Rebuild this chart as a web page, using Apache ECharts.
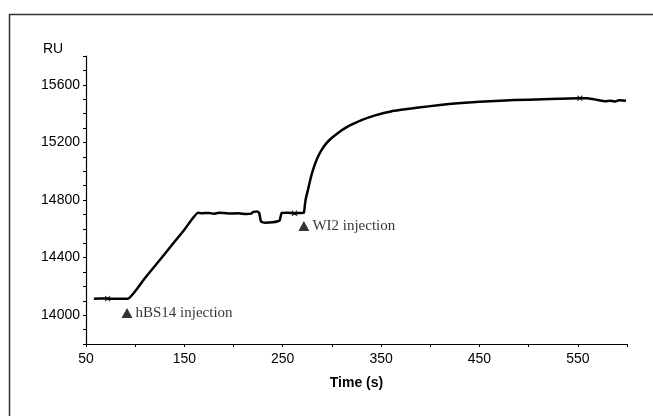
<!DOCTYPE html>
<html>
<head>
<meta charset="utf-8">
<script src="https://cdn.jsdelivr.net/npm/echarts@6/dist/echarts.min.js"></script>
<style>html,body{margin:0;padding:0;background:#fff;}#c{width:653px;height:416px;}</style>
</head>
<body>
<div id="c"></div>
<script>
// Sensorgram values
var timeS = [58, 70, 80, 92.7, 110, 130, 150, 164, 168, 175, 180, 185, 195, 205, 213, 218, 220, 224, 226, 228, 232, 240, 245, 247, 249, 255, 262, 268, 271.5,
             272.5, 273.6, 275.6, 278.7, 281.7, 284.8, 288.8, 293.9, 300, 310, 316, 322, 330, 344, 360, 386, 410, 428, 450, 471, 500, 530, 553, 560, 570, 578, 583, 587, 592, 599];
var ruValues = [14115, 14116, 14114, 14115, 14258, 14425, 14594, 14712, 14708, 14710, 14704, 14712, 14706, 14708, 14702, 14705, 14718, 14720, 14712, 14650, 14642, 14645, 14652, 14660, 14710, 14712, 14706, 14710, 14712,
                14765, 14814, 14869, 14960, 15029, 15085, 15140, 15190, 15232, 15285, 15310, 15330, 15355, 15388, 15415, 15440, 15460, 15472, 15482, 15490, 15497, 15503, 15507, 15506, 15495, 15486, 15490, 15484, 15492, 15490];
// small cross marks on the trace
var markTimes = [72, 262, 552];
var markRU = [14115, 14708, 15507];
// injection annotations
var injLabels = ['hBS14 injection', 'WI2 injection'];
var injTimes = [91.7, 271.5];
var injRU = [14015, 14620];
// axis tick labels
var xLabels = [50, 150, 250, 350, 450, 550];
var yLabels = [14000, 14400, 14800, 15200, 15600];

var lineData = timeS.map(function (t, i) { return [t, ruValues[i]]; });
var markData = markTimes.map(function (t, i) { return [t, markRU[i]]; });
var injData = injTimes.map(function (t, i) { return { name: injLabels[i], value: [t, injRU[i]] }; });

var chart = echarts.init(document.getElementById('c'), null, { renderer: 'canvas' });
var axisFont = 'Liberation Sans, Arial, sans-serif';
chart.setOption({
  animation: false,
  backgroundColor: '#fff',
  grid: { left: 86, right: 26, top: 56, bottom: 72 },
  xAxis: {
    type: 'value', min: 50, max: 600, interval: 50,
    axisLine: { show: true, lineStyle: { color: '#000', width: 1.2 } },
    axisTick: { show: true, length: 3, lineStyle: { color: '#000' } },
    splitLine: { show: false },
    axisLabel: {
      color: '#000', fontSize: 14, fontFamily: axisFont, margin: 8,
      formatter: function (v) { return xLabels.indexOf(v) >= 0 ? String(v) : ''; }
    },
    name: 'Time (s)', nameLocation: 'middle', nameGap: 32,
    nameTextStyle: { color: '#000', fontSize: 14, fontWeight: 'bold', fontFamily: axisFont }
  },
  yAxis: {
    type: 'value', min: 13800, max: 15800, interval: 200,
    axisLine: { show: true, lineStyle: { color: '#000', width: 1.2 } },
    axisTick: { show: true, length: 3, lineStyle: { color: '#000' } },
    minorTick: { show: true, splitNumber: 2, length: 3, lineStyle: { color: '#000' } },
    splitLine: { show: false },
    axisLabel: {
      color: '#000', fontSize: 14, fontFamily: axisFont, margin: 6,
      formatter: function (v) { return yLabels.indexOf(v) >= 0 ? String(v) : ''; }
    }
  },
  series: [
    {
      type: 'line', data: lineData, showSymbol: false, smooth: 0.15,
      lineStyle: { color: '#000', width: 2.5 }, z: 3
    },
    {
      type: 'scatter', data: markData,
      symbol: 'path://M0,0L10,10M10,0L0,10', symbolSize: 5,
      itemStyle: { color: 'none', borderColor: '#000', borderWidth: 1.2 }, z: 4
    },
    {
      type: 'scatter', data: injData, symbol: 'triangle', symbolSize: [11, 10],
      itemStyle: { color: '#000' },
      label: {
        show: true, position: 'right', distance: 3, color: '#000',
        fontSize: 15, fontFamily: 'Liberation Serif, Times New Roman, serif',
        formatter: function (p) { return p.name; }
      }, z: 4
    }
  ],
  graphic: [
    { type: 'rect', left: 7, top: 12, shape: { width: 700, height: 500 },
      style: { fill: 'none', stroke: '#333', lineWidth: 1.5 }, silent: true },
    { type: 'text', left: 43, top: 42,
      style: { text: 'RU', fontSize: 14, fontFamily: axisFont, fill: '#000' } }
  ]
});
</script>
</body>
</html>
